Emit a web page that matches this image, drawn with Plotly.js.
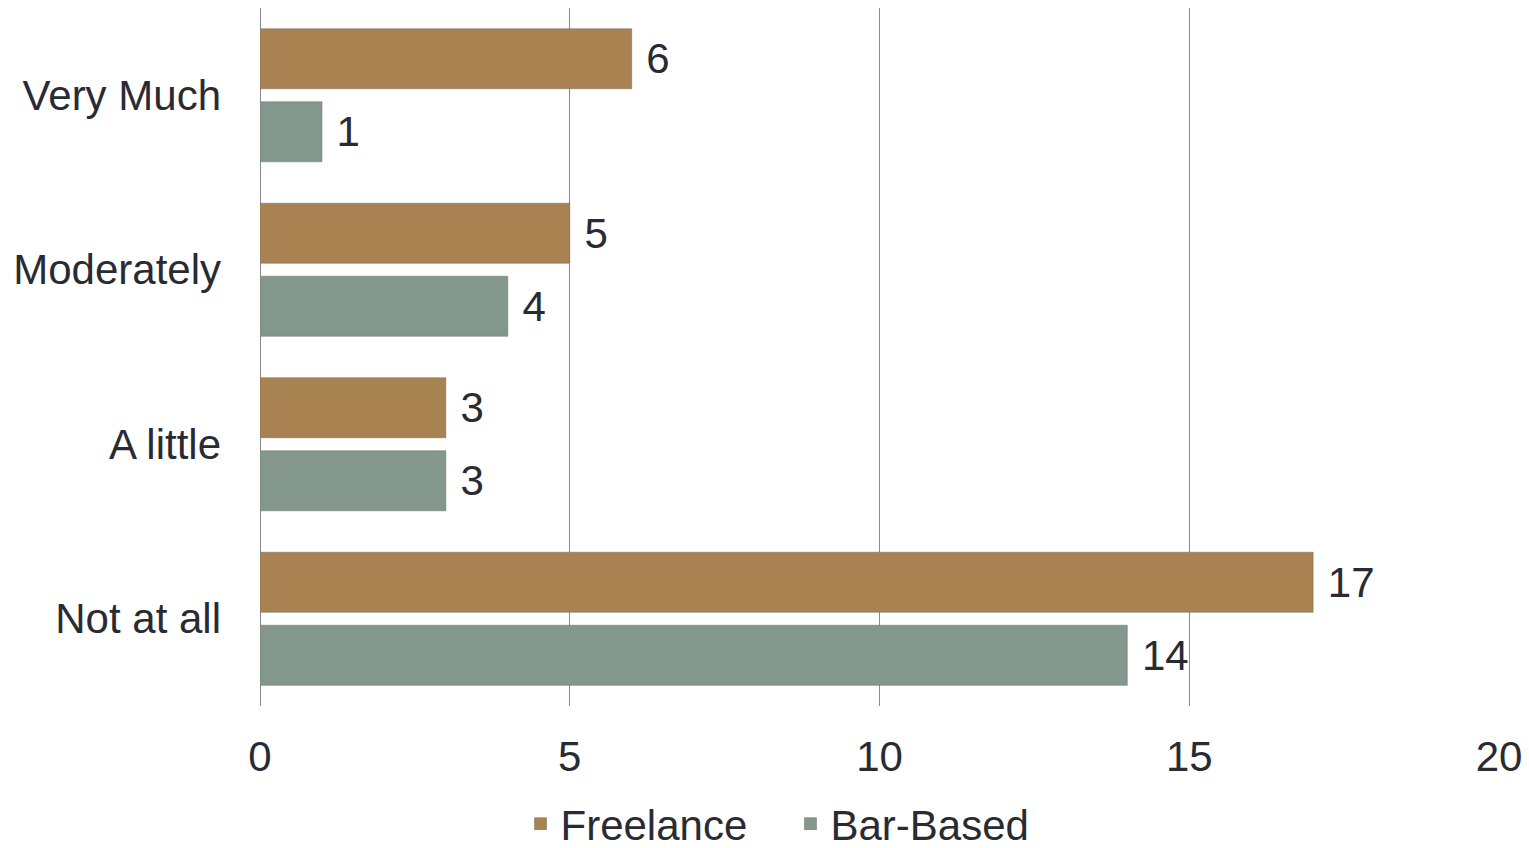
<!DOCTYPE html>
<html>
<head>
<meta charset="utf-8">
<script src="https://cdn.plot.ly/plotly-3.0.1.min.js"></script>
<style>html,body{margin:0;padding:0;background:#fff;}#chart{width:1529px;height:848px;}</style>
</head>
<body>
<div id="chart"></div>
<script>
const categories = ["Not at all", "A little", "Moderately", "Very Much"];
const freelance = [17, 3, 5, 6];
const barBased = [14, 3, 4, 1];
const xTicks = [0, 5, 10, 15, 20];

const fontFam = "Liberation Sans, Arial, sans-serif";
const textColor = "#2a2a33";
const FS = 42;

const traces = [
  {
    type: "bar", orientation: "h", name: "Bar-Based",
    y: categories, x: barBased,
    text: barBased.map(v => " " + v), textposition: "outside", cliponaxis: false,
    textfont: {family: fontFam, size: FS, color: textColor},
    marker: {color: "#84978c", line: {color: "rgba(110,110,110,0.5)", width: 1}},
    hoverinfo: "x+name"
  },
  {
    type: "bar", orientation: "h", name: "Freelance",
    y: categories, x: freelance,
    text: freelance.map(v => " " + v), textposition: "outside", cliponaxis: false,
    textfont: {family: fontFam, size: FS, color: textColor},
    marker: {color: "#a88250", line: {color: "rgba(110,110,110,0.5)", width: 1}},
    hoverinfo: "x+name"
  }
];

const layout = {
  width: 1529, height: 848,
  margin: {l: 260, r: 30, t: 8, b: 62},
  paper_bgcolor: "#ffffff", plot_bgcolor: "#ffffff",
  font: {family: fontFam, size: FS, color: textColor},
  barmode: "group", bargap: 0.163, bargroupgap: 0.178,
  xaxis: {
    range: [0, 20], tickvals: xTicks, ticktext: xTicks.map(String),
    showgrid: true, gridcolor: "#8a8a8a", gridwidth: 1,
    zeroline: true, zerolinecolor: "#8a8a8a", zerolinewidth: 1,
    showline: false, ticks: "", ticklabelstandoff: 22,
    tickfont: {family: fontFam, size: FS, color: textColor},
    fixedrange: true
  },
  yaxis: {
    domain: [0.1028, 1],
    type: "category", categoryorder: "array", categoryarray: categories,
    range: [-0.5, 3.5], showgrid: false, zeroline: false, showline: false,
    ticks: "", ticklabelstandoff: 38,
    tickfont: {family: fontFam, size: FS, color: textColor},
    fixedrange: true
  },
  legend: {
    orientation: "h", xref: "container", yref: "container",
    x: 0.517, xanchor: "center", y: 0.0285, yanchor: "middle",
    traceorder: "reversed", font: {family: fontFam, size: FS, color: textColor},
    itemwidth: 30, entrywidth: 225, entrywidthmode: "pixels", bgcolor: "rgba(0,0,0,0)"
  },
  showlegend: true
};

Plotly.newPlot("chart", traces, layout, {displayModeBar: false, staticPlot: true});
</script>
</body>
</html>
